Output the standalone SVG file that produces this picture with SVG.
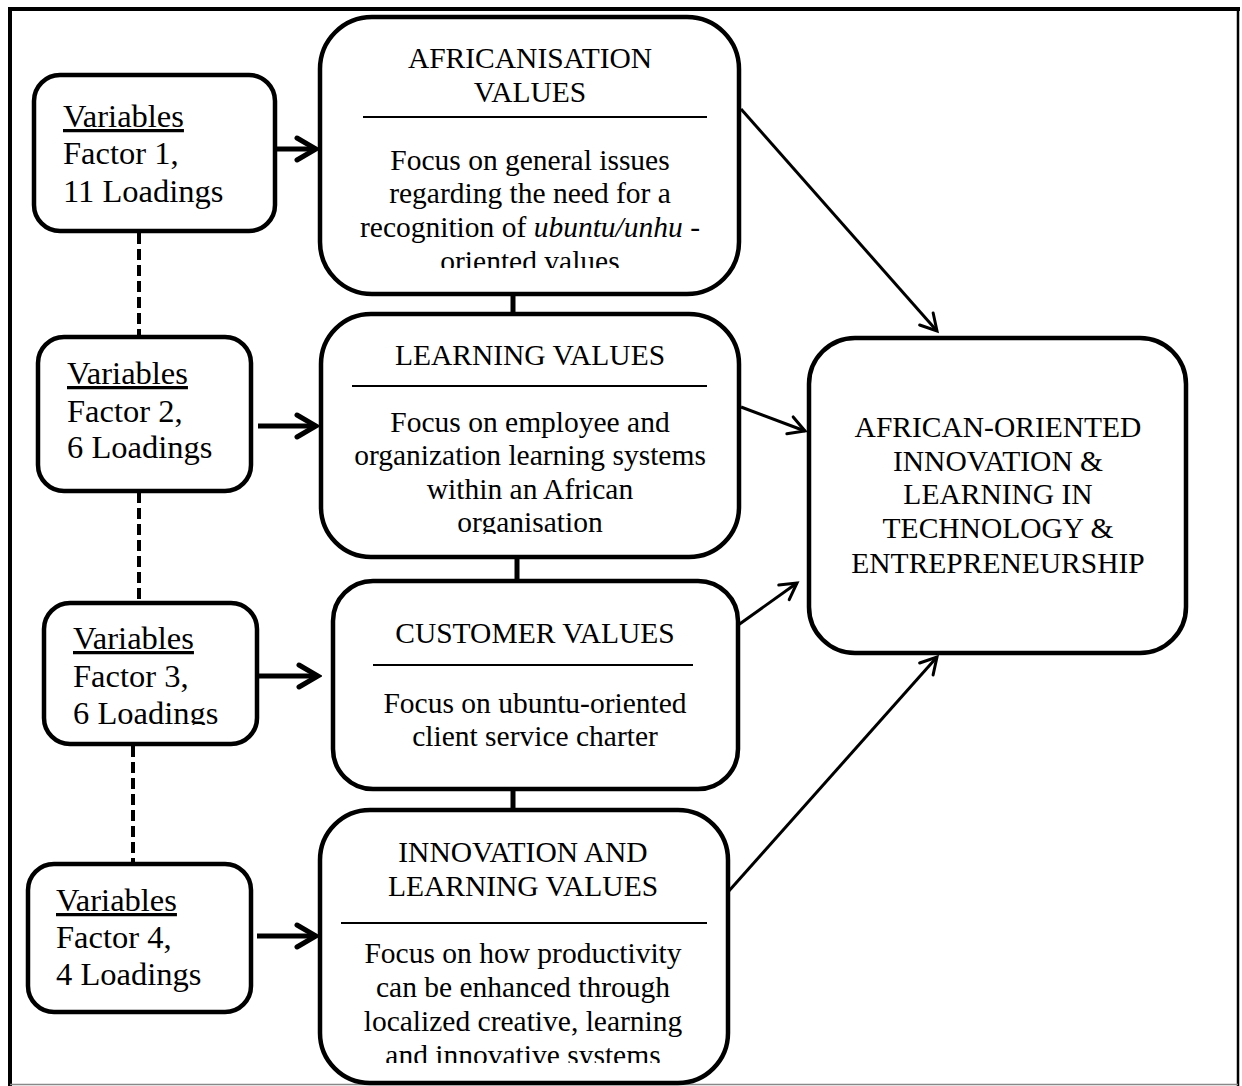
<svg xmlns="http://www.w3.org/2000/svg" width="1242" height="1086" viewBox="0 0 1242 1086">
<style>
.box{fill:#fff;stroke:#000;stroke-width:4.5}
.t{font-family:"Liberation Serif","Times New Roman",serif;fill:#000}
.var{font-size:32.5px}
.ttl{font-size:29.5px;text-anchor:middle}
.body{font-size:29.5px;text-anchor:middle}
.sep{stroke:#000;stroke-width:2}
.thick{stroke:#000;stroke-width:5;fill:none}
.thin{stroke:#000;stroke-width:3;fill:none}
.dash{stroke:#000;stroke-width:4;stroke-dasharray:11 5;fill:none}
</style>
<defs>
<marker id="ah" markerUnits="userSpaceOnUse" viewBox="0 0 26 28" refX="22" refY="14" markerWidth="26" markerHeight="28" orient="auto">
<path d="M3,3 L22,14 L3,25" fill="none" stroke="#000" stroke-width="5" stroke-linecap="round" stroke-linejoin="miter"/>
</marker>
<marker id="ahs" markerUnits="userSpaceOnUse" viewBox="0 0 22 24" refX="19" refY="12" markerWidth="22" markerHeight="24" orient="auto">
<path d="M3,3 L19,12 L3,21" fill="none" stroke="#000" stroke-width="3" stroke-linecap="round"/>
</marker>
<clipPath id="cAfr"><rect x="320" y="140" width="420" height="128"/></clipPath>
<clipPath id="cLrn"><rect x="320" y="400" width="420" height="134"/></clipPath>
<clipPath id="cV3"><rect x="40" y="610" width="220" height="115"/></clipPath>
<clipPath id="cInn"><rect x="320" y="930" width="410" height="133"/></clipPath>
</defs>
<rect width="1242" height="1086" fill="#fff"/>
<g id="frame">
<line x1="8" y1="9" x2="1240" y2="9" stroke="#000" stroke-width="4"/>
<line x1="10" y1="7" x2="10" y2="1086" stroke="#000" stroke-width="4"/>
<line x1="1238" y1="7" x2="1238" y2="1086" stroke="#000" stroke-width="2.5"/>
<line x1="10" y1="1084.5" x2="1238" y2="1084.5" stroke="#888" stroke-width="1.5"/>
</g>
<g id="connectors">
<line class="dash" x1="139" y1="233" x2="139" y2="335"/>
<line class="dash" x1="139" y1="492" x2="139" y2="601"/>
<line class="dash" x1="133" y1="746" x2="133" y2="862"/>
<line class="thick" x1="277" y1="149" x2="316" y2="149" marker-end="url(#ah)"/>
<line class="thick" x1="258" y1="426" x2="316" y2="426" marker-end="url(#ah)"/>
<line class="thick" x1="258" y1="676" x2="318" y2="676" marker-end="url(#ah)"/>
<line class="thick" x1="257" y1="936" x2="316" y2="936" marker-end="url(#ah)"/>
<line class="thick" x1="513" y1="295" x2="513" y2="315"/>
<line class="thick" x1="517" y1="558" x2="517" y2="582"/>
<line class="thick" x1="513" y1="790" x2="513" y2="811"/>
<line class="thin" x1="741" y1="109" x2="937" y2="331" marker-end="url(#ahs)"/>
<line class="thin" x1="741" y1="407" x2="805" y2="431" marker-end="url(#ahs)"/>
<line class="thin" x1="734" y1="628" x2="797" y2="583" marker-end="url(#ahs)"/>
<line class="thin" x1="728" y1="892" x2="937" y2="657" marker-end="url(#ahs)"/>
</g>
<g id="var1">
<rect class="box" x="34" y="75" width="241" height="156" rx="26"/>
<text class="t var" x="63" y="127"><tspan text-decoration="underline">Variables</tspan></text>
<text class="t var" x="63" y="164">Factor 1,</text>
<text class="t var" x="63" y="202">11 Loadings</text>
</g>
<g id="var2">
<rect class="box" x="38" y="337" width="213" height="154" rx="26"/>
<text class="t var" x="67" y="384"><tspan text-decoration="underline">Variables</tspan></text>
<text class="t var" x="67" y="422">Factor 2,</text>
<text class="t var" x="67" y="458">6 Loadings</text>
</g>
<g id="var3">
<rect class="box" x="44" y="603" width="213" height="141" rx="26"/>
<text class="t var" x="73" y="649"><tspan text-decoration="underline">Variables</tspan></text>
<text class="t var" x="73" y="687">Factor 3,</text>
<g clip-path="url(#cV3)"><text class="t var" x="73" y="724">6 Loadings</text></g>
</g>
<g id="var4">
<rect class="box" x="28" y="864" width="223" height="148" rx="26"/>
<text class="t var" x="56" y="911"><tspan text-decoration="underline">Variables</tspan></text>
<text class="t var" x="56" y="948">Factor 4,</text>
<text class="t var" x="56" y="985">4 Loadings</text>
</g>
<g id="africanisation">
<rect class="box" x="320" y="17" width="419" height="277" rx="52"/>
<text class="t ttl" x="530" y="68">AFRICANISATION</text>
<text class="t ttl" x="530" y="102">VALUES</text>
<line class="sep" x1="363" y1="117" x2="707" y2="117"/>
<text class="t body" x="530" y="170">Focus on general issues</text>
<text class="t body" x="530" y="203">regarding the need for a</text>
<text class="t body" x="530" y="237">recognition of <tspan font-style="italic">ubuntu/unhu</tspan> -</text>
<g clip-path="url(#cAfr)"><text class="t body" x="530" y="271">oriented values</text></g>
</g>
<g id="learning">
<rect class="box" x="321" y="314" width="418" height="243" rx="50"/>
<text class="t ttl" x="530" y="365">LEARNING VALUES</text>
<line class="sep" x1="352" y1="386" x2="707" y2="386"/>
<text class="t body" x="530" y="432">Focus on employee and</text>
<text class="t body" x="530" y="465">organization learning systems</text>
<text class="t body" x="530" y="499">within an African</text>
<g clip-path="url(#cLrn)"><text class="t body" x="530" y="532">organisation</text></g>
</g>
<g id="customer">
<rect class="box" x="333" y="581" width="405" height="208" rx="40"/>
<text class="t ttl" x="535" y="643">CUSTOMER VALUES</text>
<line class="sep" x1="373" y1="665" x2="693" y2="665"/>
<text class="t body" x="535" y="713">Focus on ubuntu-oriented</text>
<text class="t body" x="535" y="746">client service charter</text>
</g>
<g id="innovation">
<rect class="box" x="320" y="810" width="408" height="273" rx="50"/>
<text class="t ttl" x="523" y="862">INNOVATION AND</text>
<text class="t ttl" x="523" y="896">LEARNING VALUES</text>
<line class="sep" x1="341" y1="923" x2="707" y2="923"/>
<text class="t body" x="523" y="963">Focus on how productivity</text>
<text class="t body" x="523" y="997">can be enhanced through</text>
<text class="t body" x="523" y="1031">localized creative, learning</text>
<g clip-path="url(#cInn)"><text class="t body" x="523" y="1065">and innovative systems</text></g>
</g>
<g id="outcome">
<rect class="box" x="809" y="338" width="377" height="315" rx="46"/>
<text class="t ttl" x="998" y="437">AFRICAN-ORIENTED</text>
<text class="t ttl" x="998" y="471">INNOVATION &amp;</text>
<text class="t ttl" x="998" y="504">LEARNING IN</text>
<text class="t ttl" x="998" y="538">TECHNOLOGY &amp;</text>
<text class="t ttl" x="998" y="573">ENTREPRENEURSHIP</text>
</g>
</svg>
